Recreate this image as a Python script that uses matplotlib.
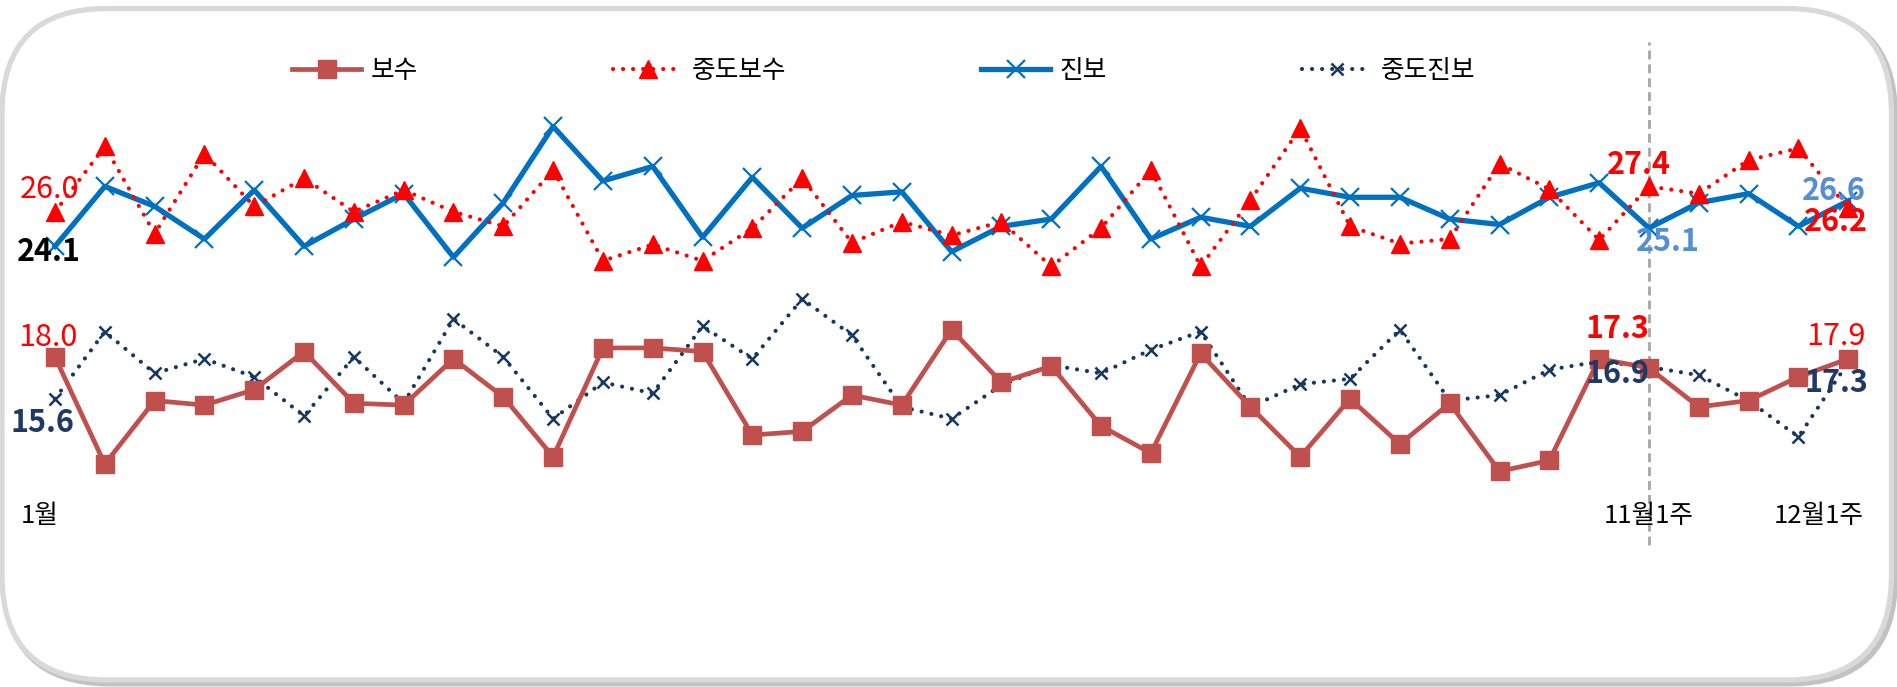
import numpy as np
import matplotlib
matplotlib.use("Agg")
import matplotlib.pyplot as plt
from matplotlib.patches import FancyBboxPatch

plt.rcParams['font.family'] = ['Noto Sans CJK KR', 'DejaVu Sans']

# weekly poll values (37 weeks)
weeks = np.arange(37)
bosu = [18.0, 12.1, 15.6, 15.35, 16.2, 18.3, 15.45, 15.35, 17.9, 15.8,
        12.5, 18.5, 18.5, 18.3, 13.7, 13.9, 15.9, 15.35, 19.5, 16.6,
        17.5, 14.2, 12.7, 18.2, 15.25, 12.5, 15.7, 13.2, 15.45, 11.7,
        12.3, 17.9, 17.4, 15.25, 15.6, 16.9, 17.9]
jungdo_bosu = [26.0, 29.6, 24.8, 29.2, 26.3, 27.85, 26.0, 27.2, 26.0, 25.2,
               28.3, 23.3, 24.2, 23.3, 25.1, 27.85, 24.3, 25.45, 24.7, 25.45,
               23.0, 25.1, 28.3, 23.0, 26.65, 30.6, 25.2, 24.25, 24.5, 28.65,
               27.25, 24.45, 27.4, 27.0, 28.85, 29.5, 26.2]
jinbo = [24.1, 27.4, 26.3, 24.5, 27.2, 24.1, 25.6, 27.0, 23.5, 26.5,
         30.7, 27.7, 28.5, 24.6, 27.9, 25.1, 26.9, 27.1, 23.8, 25.2,
         25.6, 28.5, 24.5, 25.7, 25.2, 27.3, 26.8, 26.8, 25.6, 25.3,
         26.8, 27.6, 25.1, 26.5, 27.0, 25.2, 26.6]
jungdo_jinbo = [15.7, 19.4, 17.1, 17.9, 16.9, 14.75, 18.0, 15.45, 20.1, 18.0,
                14.6, 16.6, 16.0, 19.7, 17.9, 21.2, 19.2, 15.25, 14.6, 16.45,
                17.55, 17.1, 18.4, 19.4, 15.25, 16.5, 16.8, 19.5, 15.6, 15.9,
                17.3, 17.75, 17.45, 17.0, 15.6, 13.6, 17.7]

series_names = ['보수', '중도보수', '진보', '중도진보']
tick_pos = [0, 32, 36]
tick_labels = ['1월', '11월1주', '12월1주']
marker_week = 32

# data label texts: (series, week, text)
label_texts = [
    ('중도보수', 0, '26.0'), ('진보', 0, '24.1'), ('보수', 0, '18.0'), ('중도진보', 0, '15.6'),
    ('보수', 32, '17.3'), ('중도진보', 32, '16.9'), ('중도보수', 32, '27.4'), ('진보', 32, '25.1'),
    ('진보', 36, '26.6'), ('중도보수', 36, '26.2'), ('보수', 36, '17.9'), ('중도진보', 36, '17.3'),
]

W, H = 1897, 687
fig = plt.figure(figsize=(W / 100, H / 100), dpi=100)

# rounded frame with a soft shadow
bg = fig.add_axes([0, 0, 1, 1])
bg.set_xlim(0, W)
bg.set_ylim(H, 0)
bg.axis('off')
shadow = FancyBboxPatch((5, 11.5), 1889.5, 671.5, boxstyle='round,pad=0,rounding_size=105',
                        facecolor='none', edgecolor='#9a9a9a', lw=5, alpha=0.6)
bg.add_patch(shadow)
frame = FancyBboxPatch((2, 8.5), 1889.5, 671.5, boxstyle='round,pad=0,rounding_size=105',
                       facecolor='white', edgecolor='#d9d9d9', lw=3.8)
bg.add_patch(frame)

ax = fig.add_axes([30.1 / W, (H - 502.2) / H, 1843 / W, 417.45 / H])
ax.set_facecolor('none')

data = {'보수': bosu, '중도보수': jungdo_bosu, '진보': jinbo, '중도진보': jungdo_jinbo}
dots = (0, (0.01, 2.4))
ax.plot(weeks, jungdo_jinbo, color='#17375e', lw=3.0, ls=dots, dash_capstyle='round',
        marker='x', ms=9, mew=1.8, label='중도진보', zorder=2)
ax.plot(weeks, jinbo, color='#0070c0', lw=3.8, marker='x', ms=13, mew=1.6,
        label='진보', zorder=3)
ax.plot(weeks, jungdo_bosu, color='#ff0000', lw=3.0, ls=dots, dash_capstyle='round',
        marker='^', ms=13, label='중도보수', zorder=4)
ax.plot(weeks, bosu, color='#c0504d', lw=3.4, marker='s', ms=12.5, label='보수', zorder=5)

ax.set_xlim(-0.5, 36.5)
ax.set_ylim(10, 33)
for s in ax.spines.values():
    s.set_visible(False)
ax.set_xticks([])
ax.set_yticks([])

ax.axvline(marker_week, ymin=-0.1025, ymax=1.1024, color='#a6a6a6', lw=2,
           ls=(0, (3.2, 1.8)), clip_on=False, zorder=1)

# category labels under the axis
tick_dx = [-15, 0, -29]
for pos, lbl, dx in zip(tick_pos, tick_labels, tick_dx):
    ax.annotate(lbl, xy=(pos, 10), xytext=(dx, -14), textcoords='offset pixels',
                ha='center', va='center', fontsize=18.5, color='black')

# data labels
label_style = {
    ('중도보수', 0): ('#ff0000', 'normal', -6, 22),
    ('진보', 0): ('black', 'bold', -6, -6),
    ('보수', 0): ('#ff0000', 'normal', -7, 20),
    ('중도진보', 0): ('#1f3864', 'bold', -13, -24),
    ('보수', 32): ('#ff0000', 'bold', -32, 39),
    ('중도진보', 32): ('#1f3864', 'bold', -32, -7),
    ('중도보수', 32): ('#ff0000', 'bold', -10, 21),
    ('진보', 32): ('#558ed5', 'bold', 19, -14),
    ('진보', 36): ('#558ed5', 'bold', -14, 10),
    ('중도보수', 36): ('#ff0000', 'bold', -12, -14),
    ('보수', 36): ('#ff0000', 'normal', -12, 22),
    ('중도진보', 36): ('#1f3864', 'bold', -12, -21),
}
for name, wk, txt in label_texts:
    color, weight, dx, dy = label_style[(name, wk)]
    ax.annotate(txt, xy=(wk, data[name][wk]), xytext=(dx, dy), textcoords='offset pixels',
                ha='center', va='center', fontsize=22, color=color, fontweight=weight,
                zorder=10)

handles, labels = ax.get_legend_handles_labels()
order = [labels.index(n) for n in series_names]
fig.legend([handles[i] for i in order], [labels[i] for i in order],
           loc='center left', bbox_to_anchor=(292 / W, 1 - 71 / H), ncol=4,
           frameon=False, fontsize=18.5, handlelength=2.7, handletextpad=0.35,
           columnspacing=7.6, borderpad=0, borderaxespad=0, numpoints=1)

fig.savefig('out.png', dpi=100)
